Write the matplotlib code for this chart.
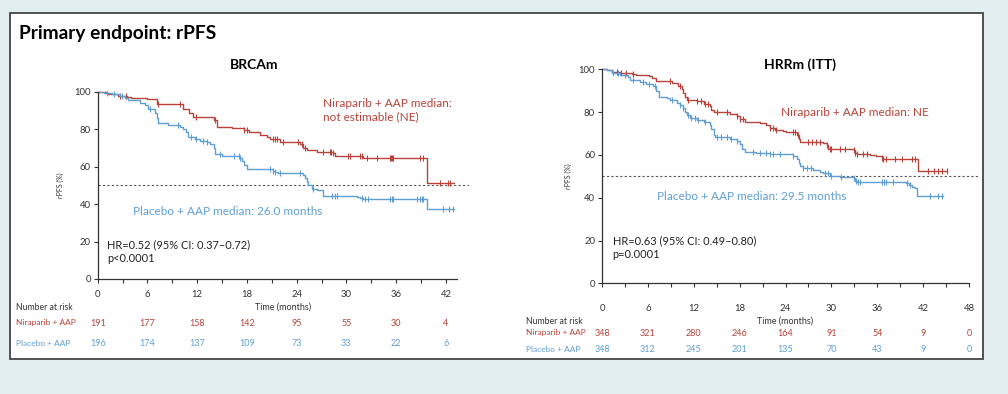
import numpy as np
import matplotlib
matplotlib.use("Agg")
import matplotlib.pyplot as plt
from matplotlib.patches import Rectangle
from matplotlib.transforms import blended_transform_factory

plt.rcParams['font.family'] = ['Lato', 'DejaVu Sans']

RED = '#b8433a'
BLUE = '#5f9fd6'
BG = '#e3eef0'

# ---- data: BRCAm ----
brca_nir_t = [0, 1.1, 2.5, 3.5, 4.0, 5.9, 7.1, 10.3, 11.0, 11.5, 14.0, 14.4, 16.2, 17.6, 18.2, 19.6,
              20.4, 20.8, 22.0, 23.6, 24.4, 24.8, 25.2, 26.4, 28.4, 28.6, 31.7, 32.0, 39.7, 43.0]
brca_nir_s = [100, 99, 98, 97.5, 97, 96, 93.5, 91, 89, 86.5, 85, 81.5, 80.5, 79.5, 78.5, 77,
              76, 75, 73.5, 73, 72, 70, 69, 68, 67.5, 66, 65.5, 64.5, 51.5, 51.5]
brca_nir_cens = [2.7, 3.4, 7.3, 9.9, 11.9, 14.2, 17.7, 18.0, 21.2, 21.4, 21.6, 22.3, 24.2, 24.6, 25.0,
                 27.2, 28.0, 28.2, 28.4, 30.2, 30.4, 31.6, 31.9, 32.5, 33.7, 35.3, 35.4, 35.5, 35.6,
                 38.9, 39.3, 41.3, 42.2, 42.5]

brca_pbo_t = [0, 0.7, 1.7, 2.7, 3.3, 3.6, 5.1, 5.7, 6.1, 6.9, 7.1, 7.3, 8.5, 9.9, 10.3, 10.7, 10.9,
              11.7, 12.3, 13.2, 13.6, 14.0, 14.2, 15.0, 17.2, 17.4, 17.7, 18.0, 21.2, 21.4, 21.8,
              24.8, 25.0, 25.2, 25.4, 25.8, 26.4, 27.2, 31.3, 31.7, 32.0, 39.3, 39.7, 43.0]
brca_pbo_s = [100, 99.5, 99, 98, 97, 95.5, 94, 93, 91, 89, 86, 83.5, 82.5, 81.5, 80, 78.5, 76,
              75, 74, 73.5, 72, 70, 67, 65.5, 64.5, 63, 61, 59, 58, 57, 56.5,
              55.5, 54, 52, 50, 48, 47.5, 44.5, 44, 43.5, 43, 42.5, 37.5, 37.5]
brca_pbo_cens = [1.1, 2.0, 2.9, 6.3, 9.7, 11.3, 11.9, 12.7, 13.2, 14.8, 16.4, 17.0, 17.2, 20.8, 21.2,
                 21.4, 22.0, 24.4, 26.0, 28.3, 28.6, 28.9, 31.9, 32.2, 32.6, 35.3, 35.5, 35.6, 38.5,
                 38.9, 39.1, 39.3, 41.7, 42.4, 42.9]

brca_risk_t = [0, 6, 12, 18, 24, 30, 36, 42]
brca_risk_nir = [191, 177, 158, 142, 95, 55, 30, 4]
brca_risk_pbo = [196, 174, 137, 109, 73, 33, 22, 6]

# ---- data: HRRm (ITT) ----
hrr_nir_t = [0, 0.6, 1.3, 2.4, 3.9, 4.5, 6.1, 6.5, 7.1, 9.1, 10.0, 10.4, 10.6, 10.9, 11.1, 12.4,
             13.3, 14.1, 14.3, 14.6, 16.7, 17.6, 18.0, 18.7, 20.7, 21.5, 22.0, 22.6, 23.7, 24.1,
             25.5, 25.7, 25.9, 28.9, 29.4, 29.6, 32.9, 33.1, 33.3, 35.0, 35.9, 36.6, 36.8, 41.3, 45.1]
hrr_nir_s = [100, 99.5, 99, 98.5, 98, 97.5, 97, 96, 94.5, 93.5, 92, 91, 89, 87, 85.5, 85,
             84, 83, 81, 80, 79, 78, 77, 75.5, 75, 74, 72.5, 71.5, 71, 70.5,
             69.5, 67.5, 66, 65.5, 64.5, 63, 62.5, 61, 60.5, 60, 59.5, 58.5, 58, 52.5, 52.5]
hrr_nir_cens = [1.9, 2.5, 3.2, 4.1, 8.9, 10.2, 11.3, 12.4, 13.0, 13.5, 13.9, 15.0, 16.3, 17.6, 18.0,
                18.5, 22.0, 22.4, 22.8, 25.0, 25.3, 25.6, 27.0, 27.5, 28.0, 28.5, 29.4, 29.8, 30.0,
                31.1, 31.8, 32.9, 33.1, 33.4, 34.2, 34.7, 36.6, 36.8, 37.1, 38.3, 39.3, 40.5, 40.9,
                42.7, 43.4, 44.0, 44.5, 45.1]

hrr_pbo_t = [0, 0.6, 1.3, 2.4, 3.4, 3.7, 5.0, 5.8, 6.7, 7.1, 7.4, 8.5, 8.9, 9.8, 10.2, 10.6, 10.9,
             11.1, 11.5, 12.4, 13.3, 14.1, 14.3, 14.6, 14.8, 16.7, 17.6, 18.0, 18.3, 18.7, 20.2,
             22.0, 25.0, 25.5, 25.7, 25.9, 26.3, 27.6, 28.5, 28.9, 29.8, 31.1, 32.9, 33.1, 33.3,
             39.8, 40.1, 40.5, 40.9, 41.2, 44.6]
hrr_pbo_s = [100, 99.5, 98.5, 97.5, 96.5, 95, 94, 93, 92, 90, 87, 86.5, 85.5, 84.5, 83.5, 82, 80,
             78.5, 77.5, 76.5, 75.5, 74, 72, 69.5, 68.5, 67.5, 66.5, 65, 63, 61.5, 61,
             60.5, 59.5, 58, 56, 55, 54, 53, 52, 51.5, 50, 49.5, 49, 48, 47.5,
             47, 46, 45, 44.5, 41, 41]
hrr_pbo_cens = [1.5, 2.1, 3.0, 4.1, 5.4, 6.1, 6.9, 9.1, 10.2, 10.6, 11.3, 11.7, 12.2, 12.6, 13.5,
                15.0, 15.6, 16.3, 16.9, 17.6, 19.8, 20.7, 21.5, 22.0, 22.4, 23.3, 25.0, 26.3, 26.8,
                27.3, 29.2, 29.6, 30.0, 31.3, 32.9, 33.2, 33.5, 33.7, 36.6, 36.9, 37.1, 38.1, 39.9,
                40.3, 42.9, 44.0, 44.5]

hrr_risk_t = [0, 6, 12, 18, 24, 30, 36, 42, 48]
hrr_risk_nir = [348, 321, 280, 246, 164, 91, 54, 9, 0]
hrr_risk_pbo = [348, 312, 245, 201, 135, 70, 43, 9, 0]


def km(ax, t, s, cens, color):
    t = np.asarray(t)
    s = np.asarray(s)
    ax.step(t, s, where='post', color=color, lw=1.0)
    c = np.asarray(cens)
    cy = s[np.searchsorted(t, c, side='right') - 1]
    ax.plot(c, cy, ls='none', marker='|', ms=5, mew=0.8, color=color)


W, H = 1008, 394
fig = plt.figure(figsize=(W / 100, H / 100), dpi=100, facecolor=BG)
fig.patches.append(Rectangle((10 / W, 1 - 359 / H), 973 / W, 346 / H, transform=fig.transFigure,
                             fc='white', ec='#444444', lw=1.3, zorder=-5))
fig.text(19 / W, 1 - 34 / H, 'Primary endpoint: rPFS', fontsize=13.8, fontweight='bold',
         va='center', ha='left')


def panel(rect, xmax, xend, title, title_y, t1, s1, c1, t2, s2, c2,
          risk_t, r1, r2, rows_y, label_x, time_x, xpad, ylabel_x):
    ax = fig.add_axes([rect[0] / W, 1 - rect[3] / H, (rect[2] - rect[0]) / W, (rect[3] - rect[1]) / H])
    ax.set_facecolor('none')
    ax.axhline(50, color='#555555', lw=0.8, ls=(0, (2, 2)), xmax=1)
    km(ax, t1, s1, c1, RED)
    km(ax, t2, s2, c2, BLUE)
    ax.set_xlim(0, xmax)
    ax.set_ylim(0, 100.5)
    for sp in ['top', 'right']:
        ax.spines[sp].set_visible(False)
    ax.spines['bottom'].set_bounds(0, xend)
    ax.spines['left'].set_bounds(0, 100)
    for sp in ['left', 'bottom']:
        ax.spines[sp].set_color('#333333')
        ax.spines[sp].set_linewidth(0.9)
    ax.set_xticks(np.arange(0, xend + 0.1, 6))
    ax.set_xticks(np.arange(3, xend + 0.1, 6), minor=True)
    ax.set_yticks(np.arange(0, 101, 20))
    ax.tick_params(axis='x', which='both', direction='out', length=3, width=0.8,
                   labelsize=6.8, pad=xpad, colors='#333333')
    ax.tick_params(axis='y', direction='out', length=3, width=0.8, labelsize=6.8, pad=2,
                   colors='#333333')
    fig.text(ylabel_x / W, 1 - ((rect[1] + rect[3]) / 2) / H, 'rPFS (%)', rotation=90,
             fontsize=5, ha='center', va='center', color='#333333')
    fig.text(title[1] / W, 1 - title_y / H, title[0], fontsize=10, fontweight='bold',
             ha='center', va='center')

    tr = blended_transform_factory(ax.transData, fig.transFigure)
    fig.text(label_x / W, 1 - rows_y[0] / H, 'Number at risk', fontsize=6.2, va='center',
             color='#333333')
    ax.text(time_x, 1 - rows_y[0] / H, 'Time (months)', transform=tr, fontsize=6.5,
            ha='center', va='center', color='#333333')
    fig.text(label_x / W, 1 - rows_y[1] / H, 'Niraparib + AAP', fontsize=6.0, va='center', color=RED)
    fig.text(label_x / W, 1 - rows_y[2] / H, 'Placebo + AAP', fontsize=6.0, va='center', color=BLUE)
    for x, a, b in zip(risk_t, r1, r2):
        ax.text(x, 1 - rows_y[1] / H, str(a), transform=tr, fontsize=6.5, ha='center',
                va='center', color=RED)
        ax.text(x, 1 - rows_y[2] / H, str(b), transform=tr, fontsize=6.5, ha='center',
                va='center', color=BLUE)
    return ax


# left panel: BRCAm
ax1 = panel((97.7, 91, 97.7 + 44.8 * 8.29, 279), 44.8, 43.4, ('BRCAm', 254), 65,
            brca_nir_t, brca_nir_s, brca_nir_cens, brca_pbo_t, brca_pbo_s, brca_pbo_cens,
            brca_risk_t, brca_risk_nir, brca_risk_pbo, (307, 323, 343), 16, 22.4, 5, 60)
ax1.text(27.2, 97, 'Niraparib + AAP median:\nnot estimable (NE)', color=RED, fontsize=8.5,
         va='top', ha='left', linespacing=1.35)
ax1.text(4.3, 36, 'Placebo + AAP median: 26.0 months', color=BLUE, fontsize=8.5, va='center')
ax1.text(1.1, 14.5, 'HR=0.52 (95% CI: 0.37\u20130.72)\np<0.0001', fontsize=7.9, va='center',
         ha='left', linespacing=1.3, color='#222222')

# right panel: HRRm (ITT)
ax2 = panel((602, 68.3, 602 + 49.5 * 7.646, 283.3), 49.5, 48, ('HRRm (ITT)', 800), 65,
            hrr_nir_t, hrr_nir_s, hrr_nir_cens, hrr_pbo_t, hrr_pbo_s, hrr_pbo_cens,
            hrr_risk_t, hrr_risk_nir, hrr_risk_pbo, (321, 333, 350), 526, 24, 12, 568)
ax2.text(23.4, 80, 'Niraparib + AAP median: NE', color=RED, fontsize=8.5, va='center')
ax2.text(7.2, 40.5, 'Placebo + AAP median: 29.5 months', color=BLUE, fontsize=8.5, va='center')
ax2.text(1.4, 16.5, 'HR=0.63 (95% CI: 0.49\u20130.80)\np=0.0001', fontsize=7.9, va='center',
         ha='left', linespacing=1.3, color='#222222')

fig.savefig('out.png', dpi=100, facecolor=BG)
